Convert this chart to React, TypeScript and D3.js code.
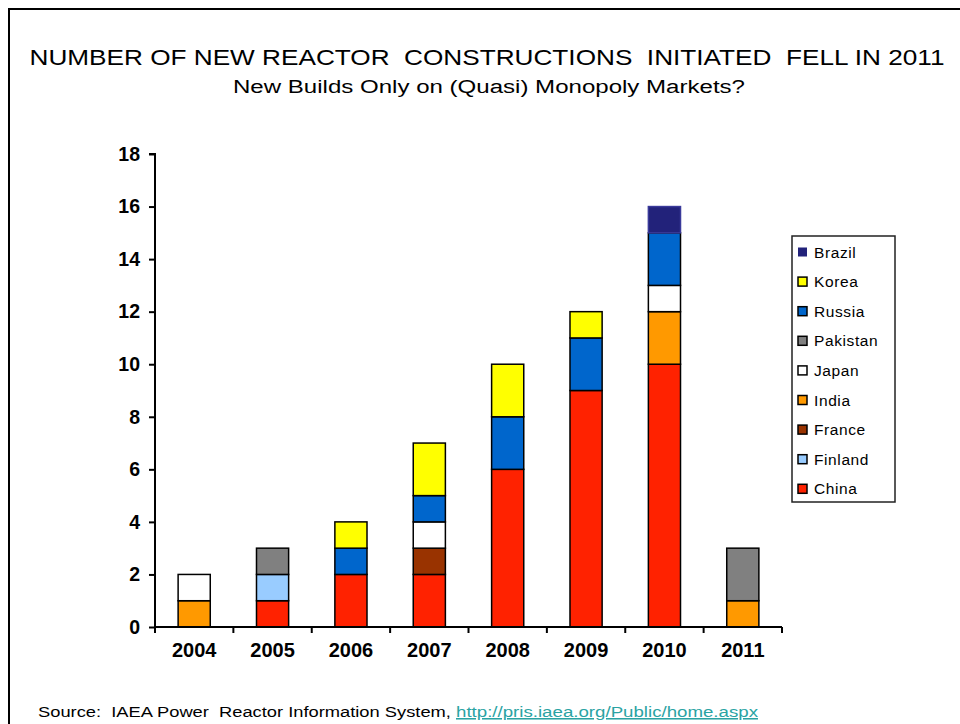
import React, { useRef, useEffect } from 'react';
import * as d3 from 'd3';

const years = ['2004', '2005', '2006', '2007', '2008', '2009', '2010', '2011'];

// stack order, bottom to top
const countries = ['China', 'Finland', 'France', 'India', 'Japan', 'Pakistan', 'Russia', 'Korea', 'Brazil'];
const colors = ['#ff2200', '#99ccff', '#993300', '#ff9900', '#ffffff', '#808080', '#0066cc', '#ffff00', '#22227a'];

const china = [0, 1, 2, 2, 6, 9, 10, 0];
const finland = [0, 1, 0, 0, 0, 0, 0, 0];
const france = [0, 0, 0, 1, 0, 0, 0, 0];
const india = [1, 0, 0, 0, 0, 0, 2, 1];
const japan = [1, 0, 0, 1, 0, 0, 1, 0];
const pakistan = [0, 1, 0, 0, 0, 0, 0, 2];
const russia = [0, 0, 1, 1, 2, 2, 2, 0];
const korea = [0, 0, 1, 2, 2, 1, 0, 0];
const brazil = [0, 0, 0, 0, 0, 0, 1, 0];

const yTicks = [0, 2, 4, 6, 8, 10, 12, 14, 16, 18];

const App = () => {
  const svgRef = useRef<SVGSVGElement>(null);

  useEffect(() => {
    document.body.style.margin = '0';
    const svg = d3.select(svgRef.current);
    svg.selectAll('*').remove();

    const font = 'Arial, "Liberation Sans", sans-serif';
    const series = [china, finland, france, india, japan, pakistan, russia, korea, brazil];
    const rows = years.map((yr, i) => {
      const r: any = { year: yr };
      countries.forEach((c, k) => { r[c] = series[k][i]; });
      return r;
    });

    const left = 155, right = 782, top = 154, bottom = 627;

    const x = d3.scaleBand().domain(years).range([left, right]).paddingInner(0.59).paddingOuter(0.295);
    const y = d3.scaleLinear().domain([0, 18]).range([bottom, top]);

    // frame
    svg.append('rect')
      .attr('x', 9).attr('y', 9).attr('width', 960).attr('height', 730)
      .attr('fill', 'none').attr('stroke', '#000').attr('stroke-width', 2);

    // title
    svg.append('text')
      .attr('x', 487).attr('y', 65)
      .attr('text-anchor', 'middle')
      .attr('font-family', font).attr('font-size', 22.5)
      .attr('textLength', 915).attr('lengthAdjust', 'spacingAndGlyphs')
      .text('NUMBER OF NEW REACTOR  CONSTRUCTIONS  INITIATED  FELL IN 2011')
      .style('white-space', 'pre');

    svg.append('text')
      .attr('x', 489).attr('y', 93)
      .attr('text-anchor', 'middle')
      .attr('font-family', font).attr('font-size', 18)
      .attr('textLength', 512).attr('lengthAdjust', 'spacingAndGlyphs')
      .text('New Builds Only on (Quasi) Monopoly Markets?');

    // bars
    const stacked = d3.stack().keys(countries)(rows);
    stacked.forEach((layer, k) => {
      svg.append('g')
        .selectAll('rect')
        .data(layer.filter(d => d[1] > d[0]))
        .enter().append('rect')
        .attr('x', (d: any) => x(d.data.year)!)
        .attr('width', x.bandwidth())
        .attr('y', d => y(d[1]))
        .attr('height', d => y(d[0]) - y(d[1]))
        .attr('fill', colors[k])
        .attr('stroke', countries[k] === 'Brazil' ? '#3a3a9a' : '#000')
        .attr('stroke-width', 1.5);
    });

    // y axis
    const yAxis = svg.append('g')
      .attr('transform', `translate(${left},0)`)
      .call(d3.axisLeft(y).tickValues(yTicks).tickSize(6).tickPadding(9));
    yAxis.select('.domain').attr('stroke-width', 2).attr('d', `M-6,${top}H0V${bottom}`);
    yAxis.selectAll('.tick line').attr('stroke-width', 2);
    yAxis.selectAll('text')
      .attr('font-family', font).attr('font-size', 19.5).attr('font-weight', 'bold').attr('fill', '#000');

    // x axis
    const xAxis = svg.append('g')
      .attr('transform', `translate(0,${bottom})`)
      .call(d3.axisBottom(x).tickSize(0).tickPadding(16));
    xAxis.select('.domain').attr('stroke-width', 2).attr('d', `M${left},0H${right}`);
    xAxis.selectAll('text')
      .attr('font-family', font).attr('font-size', 20).attr('font-weight', 'bold').attr('fill', '#000');
    const step = x.step();
    xAxis.selectAll('.sep')
      .data(d3.range(years.length + 1))
      .enter().append('line')
      .attr('x1', i => left + i * step).attr('x2', i => left + i * step)
      .attr('y1', 0).attr('y2', 6)
      .attr('stroke', '#000').attr('stroke-width', 2);

    // legend
    const lg = svg.append('g');
    lg.append('rect')
      .attr('x', 792).attr('y', 236).attr('width', 103).attr('height', 266)
      .attr('fill', '#fff').attr('stroke', '#222').attr('stroke-width', 1.5);
    const legendOrder = countries.slice().reverse();
    legendOrder.forEach((c, i) => {
      const cy = 252 + i * 29.6;
      const k = countries.indexOf(c);
      lg.append('rect')
        .attr('x', 798).attr('y', cy - 4.5).attr('width', 9).attr('height', 9)
        .attr('fill', colors[k])
        .attr('stroke', c === 'Brazil' ? 'none' : '#000').attr('stroke-width', 1.5);
      lg.append('text')
        .attr('x', 814).attr('y', cy + 5.5)
        .attr('font-family', font).attr('font-size', 15.5)
        .attr('letter-spacing', 0.6)
        .text(c);
    });

    // source
    const src = svg.append('text')
      .attr('x', 38).attr('y', 717)
      .attr('font-family', font).attr('font-size', 15.5);
    src.append('tspan').text('Source:  IAEA Power  Reactor Information System, ')
      .attr('textLength', 418).attr('lengthAdjust', 'spacingAndGlyphs')
      .style('white-space', 'pre');
    src.append('tspan').attr('fill', '#2aa3a3').attr('text-decoration', 'underline')
      .attr('textLength', 302).attr('lengthAdjust', 'spacingAndGlyphs')
      .text('http://pris.iaea.org/Public/home.aspx');
  }, []);

  return <svg ref={svgRef} width={960} height={724} style={{ display: 'block' }}></svg>;
};

export default App;
